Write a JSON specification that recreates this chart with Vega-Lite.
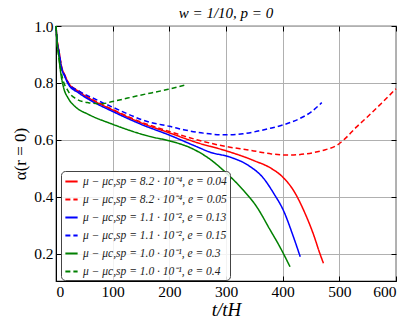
{
  "$schema": "https://vega.github.io/schema/vega-lite/v6.json",
  "width": 340,
  "height": 255,
  "autosize": {"type": "none"},
  "padding": {"left": 56, "top": 26, "right": 19, "bottom": 50},
  "background": "white",
  "title": {"text": "w = 1/10, p = 0", "font": "Liberation Serif", "fontStyle": "italic", "fontWeight": "normal", "fontSize": 15, "color": "#000", "offset": 4, "dy": 6, "anchor": "middle"},
  "config": {
    "view": {"stroke": "#000", "strokeWidth": 1.2},
    "axis": {"labelFont": "Liberation Serif", "labelFontSize": 15.5, "labelColor": "#000", "titleFont": "Liberation Serif", "titleFontWeight": "normal", "titleColor": "#000", "domainColor": "#000", "tickColor": "#000", "gridColor": "#b0b0b0", "gridWidth": 1, "tickSize": -5, "tickWidth": 1}
  },
  "data": {"values": [
    {"s":"A","t":0,"a":1.0},{"s":"A","t":2,"a":0.95},{"s":"A","t":5,"a":0.915},{"s":"A","t":10,"a":0.855},{"s":"A","t":15,"a":0.83},{"s":"A","t":22,"a":0.80},{"s":"A","t":40,"a":0.77},{"s":"A","t":60,"a":0.745},{"s":"A","t":100,"a":0.705},{"s":"A","t":150,"a":0.66},{"s":"A","t":200,"a":0.625},{"s":"A","t":250,"a":0.59},{"s":"A","t":300,"a":0.562},{"s":"A","t":350,"a":0.527},{"s":"A","t":380,"a":0.50},{"s":"A","t":400,"a":0.47},{"s":"A","t":420,"a":0.42},{"s":"A","t":440,"a":0.34},{"s":"A","t":455,"a":0.265},{"s":"A","t":465,"a":0.205},{"s":"A","t":472,"a":0.167},
    {"s":"B","t":0,"a":1.0},{"s":"B","t":2,"a":0.95},{"s":"B","t":5,"a":0.915},{"s":"B","t":10,"a":0.855},{"s":"B","t":15,"a":0.83},{"s":"B","t":22,"a":0.80},{"s":"B","t":40,"a":0.772},{"s":"B","t":60,"a":0.747},{"s":"B","t":100,"a":0.707},{"s":"B","t":150,"a":0.663},{"s":"B","t":200,"a":0.63},{"s":"B","t":250,"a":0.60},{"s":"B","t":300,"a":0.577},{"s":"B","t":343,"a":0.564},{"s":"B","t":380,"a":0.551},{"s":"B","t":413,"a":0.547},{"s":"B","t":440,"a":0.551},{"s":"B","t":470,"a":0.563},{"s":"B","t":496,"a":0.582},{"s":"B","t":513,"a":0.61},{"s":"B","t":530,"a":0.645},{"s":"B","t":549,"a":0.68},{"s":"B","t":575,"a":0.73},{"s":"B","t":600,"a":0.78},
    {"s":"C","t":0,"a":1.0},{"s":"C","t":2,"a":0.945},{"s":"C","t":5,"a":0.91},{"s":"C","t":10,"a":0.85},{"s":"C","t":15,"a":0.825},{"s":"C","t":22,"a":0.795},{"s":"C","t":40,"a":0.765},{"s":"C","t":60,"a":0.74},{"s":"C","t":100,"a":0.70},{"s":"C","t":150,"a":0.655},{"s":"C","t":200,"a":0.617},{"s":"C","t":250,"a":0.575},{"s":"C","t":272,"a":0.557},{"s":"C","t":307,"a":0.54},{"s":"C","t":340,"a":0.51},{"s":"C","t":366,"a":0.466},{"s":"C","t":385,"a":0.41},{"s":"C","t":401,"a":0.354},{"s":"C","t":419,"a":0.26},{"s":"C","t":431,"a":0.19},
    {"s":"D","t":0,"a":1.0},{"s":"D","t":2,"a":0.945},{"s":"D","t":5,"a":0.91},{"s":"D","t":10,"a":0.852},{"s":"D","t":15,"a":0.827},{"s":"D","t":22,"a":0.798},{"s":"D","t":40,"a":0.772},{"s":"D","t":60,"a":0.752},{"s":"D","t":100,"a":0.715},{"s":"D","t":166,"a":0.662},{"s":"D","t":200,"a":0.648},{"s":"D","t":225,"a":0.636},{"s":"D","t":260,"a":0.624},{"s":"D","t":296,"a":0.618},{"s":"D","t":330,"a":0.622},{"s":"D","t":378,"a":0.641},{"s":"D","t":401,"a":0.653},{"s":"D","t":430,"a":0.675},{"s":"D","t":450,"a":0.698},{"s":"D","t":469,"a":0.731},
    {"s":"E","t":0,"a":1.0},{"s":"E","t":2,"a":0.94},{"s":"E","t":4.7,"a":0.90},{"s":"E","t":7.6,"a":0.846},{"s":"E","t":13,"a":0.787},{"s":"E","t":22,"a":0.745},{"s":"E","t":35,"a":0.715},{"s":"E","t":57,"a":0.69},{"s":"E","t":100,"a":0.655},{"s":"E","t":166,"a":0.612},{"s":"E","t":200,"a":0.597},{"s":"E","t":240,"a":0.57},{"s":"E","t":270,"a":0.535},{"s":"E","t":300,"a":0.485},{"s":"E","t":330,"a":0.425},{"s":"E","t":354,"a":0.366},{"s":"E","t":378,"a":0.284},{"s":"E","t":395,"a":0.225},{"s":"E","t":413,"a":0.155},
    {"s":"F","t":0,"a":1.0},{"s":"F","t":2,"a":0.94},{"s":"F","t":5,"a":0.89},{"s":"F","t":10,"a":0.83},{"s":"F","t":22,"a":0.77},{"s":"F","t":35,"a":0.745},{"s":"F","t":57,"a":0.731},{"s":"F","t":80,"a":0.727},{"s":"F","t":100,"a":0.735},{"s":"F","t":146,"a":0.756},{"s":"F","t":198,"a":0.778},{"s":"F","t":228,"a":0.793}
  ]},
  "transform": [
    {"lookup": "s", "from": {"data": {"values": [
      {"s":"A","label":"μ − μc,sp = 8.2 · 10⁻⁴, e = 0.04"},
      {"s":"B","label":"μ − μc,sp = 8.2 · 10⁻⁴, e = 0.05"},
      {"s":"C","label":"μ − μc,sp = 1.1 · 10⁻², e = 0.13"},
      {"s":"D","label":"μ − μc,sp = 1.1 · 10⁻², e = 0.15"},
      {"s":"E","label":"μ − μc,sp = 1.0 · 10⁻¹, e = 0.3"},
      {"s":"F","label":"μ − μc,sp = 1.0 · 10⁻¹, e = 0.4"}
    ]}, "key": "s", "fields": ["label"]}}
  ],
  "layer": [
    {
      "mark": {"type": "line", "strokeWidth": 1.5, "interpolate": "monotone"},
      "encoding": {
        "x": {"field": "t", "type": "quantitative", "scale": {"domain": [0, 600], "nice": false, "zero": false},
              "axis": {"values": [0,100,200,300,400,500,600], "title": "t/tH", "titleFontSize": 19, "titleFontStyle": "italic", "titlePadding": 1, "labelPadding": 8}},
        "y": {"field": "a", "type": "quantitative", "scale": {"domain": [0.105, 1.0], "nice": false, "zero": false},
              "axis": {"values": [0.2,0.4,0.6,0.8,1.0], "format": ".1f", "title": "α(r = 0)", "titleFontSize": 17, "titlePadding": 4, "labelPadding": 8}},
        "detail": {"field": "s"},
        "color": {"field": "label", "type": "nominal",
          "scale": {"domain": ["μ − μc,sp = 8.2 · 10⁻⁴, e = 0.04","μ − μc,sp = 8.2 · 10⁻⁴, e = 0.05","μ − μc,sp = 1.1 · 10⁻², e = 0.13","μ − μc,sp = 1.1 · 10⁻², e = 0.15","μ − μc,sp = 1.0 · 10⁻¹, e = 0.3","μ − μc,sp = 1.0 · 10⁻¹, e = 0.4"],
                    "range": ["#ff0000","#ff0000","#0000ff","#0000ff","#008000","#008000"]},
          "legend": {"title": null, "orient": "none", "legendX": 5, "legendY": 145, "symbolType": "stroke", "symbolSize": 150, "symbolStrokeWidth": 2, "labelFont": "Liberation Serif", "labelFontStyle": "italic", "labelFontSize": 11.5, "labelColor": "#222", "rowPadding": 5, "fillColor": "rgba(255,255,255,0.85)", "strokeColor": "#444", "cornerRadius": 4, "padding": 3, "labelLimit": 300}},
        "strokeDash": {"field": "label", "type": "nominal",
          "scale": {"domain": ["μ − μc,sp = 8.2 · 10⁻⁴, e = 0.04","μ − μc,sp = 8.2 · 10⁻⁴, e = 0.05","μ − μc,sp = 1.1 · 10⁻², e = 0.13","μ − μc,sp = 1.1 · 10⁻², e = 0.15","μ − μc,sp = 1.0 · 10⁻¹, e = 0.3","μ − μc,sp = 1.0 · 10⁻¹, e = 0.4"],
                    "range": [[1,0],[5,3],[1,0],[5,3],[1,0],[5,3]]}}
      }
    },
    {
      "mark": {"type": "line", "opacity": 0},
      "encoding": {
        "x": {"field": "t", "type": "quantitative", "axis": {"orient": "top", "values": [0,100,200,300,400,500,600], "labels": false, "grid": false, "domain": false, "title": null}},
        "y": {"field": "a", "type": "quantitative", "axis": {"orient": "right", "values": [0.2,0.4,0.6,0.8,1.0], "labels": false, "grid": false, "domain": false, "title": null}},
        "detail": {"field": "s"}
      }
    }
  ],
  "resolve": {"axis": {"x": "independent", "y": "independent"}}
}
